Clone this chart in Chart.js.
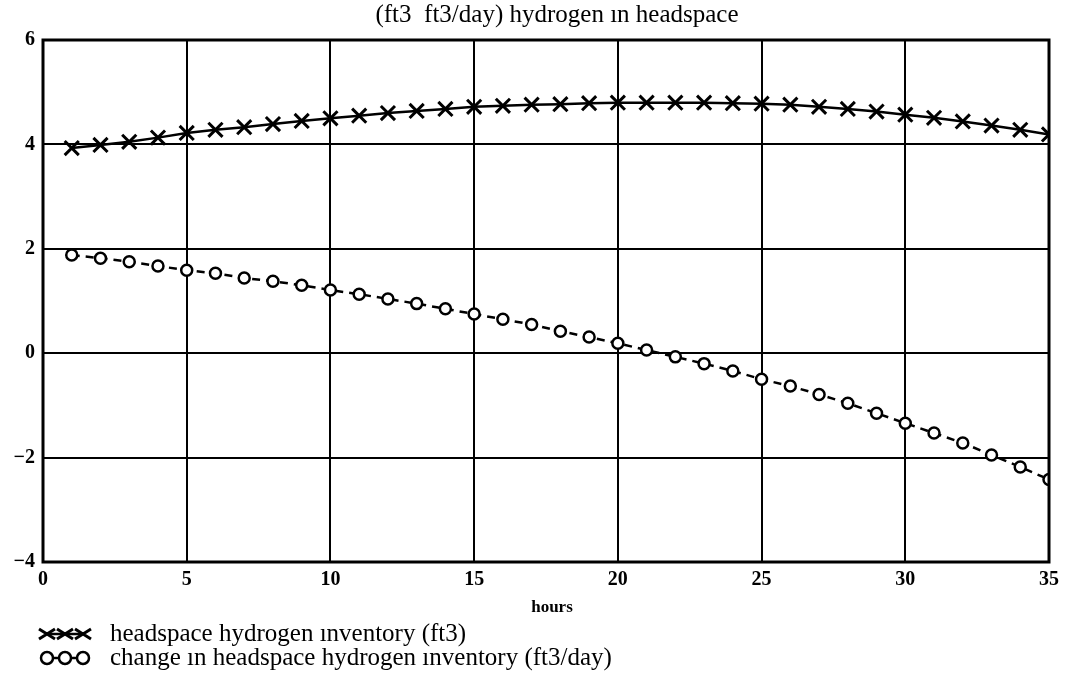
<!DOCTYPE html>
<html>
<head>
<meta charset="utf-8">
<script src="https://cdn.jsdelivr.net/npm/chart.js@4"></script>
<style>
  html, body { margin: 0; padding: 0; background: #fff; }
  #wrap { width: 1079px; height: 687px; }
</style>
</head>
<body>
<div id="wrap"><canvas id="chart" width="1079" height="687"></canvas></div>
<script>
// values
const hours = [1, 2, 3, 4, 5, 6, 7, 8, 9, 10, 11, 12, 13, 14, 15, 16, 17, 18,
    19, 20, 21, 22, 23, 24, 25, 26, 27, 28, 29, 30, 31, 32, 33, 34, 35];
const inventory = [3.93, 3.99, 4.05, 4.13, 4.22, 4.28, 4.33, 4.39, 4.45, 4.50,
    4.55, 4.60, 4.64, 4.68, 4.72, 4.74, 4.76, 4.77, 4.79, 4.80, 4.80, 4.80,
    4.80, 4.79, 4.78, 4.76, 4.72, 4.68, 4.63, 4.57, 4.51, 4.44, 4.36, 4.28, 4.19];
const change = [1.88, 1.82, 1.75, 1.67, 1.59, 1.53, 1.44, 1.38, 1.30, 1.21,
    1.13, 1.04, 0.95, 0.85, 0.75, 0.65, 0.55, 0.42, 0.31, 0.19, 0.06, -0.07,
    -0.20, -0.34, -0.50, -0.63, -0.79, -0.96, -1.15, -1.34, -1.53, -1.72,
    -1.95, -2.18, -2.42];
const xTicks = [0, 5, 10, 15, 20, 25, 30, 35];
const yTicks = [-4, -2, 0, 2, 4, 6];
const chartTitle = '(ft3  ft3/day) hydrogen ın headspace';
const xTitle = 'hours';
const legendLabels = ['headspace hydrogen ınventory (ft3)',
    'change ın headspace hydrogen ınventory (ft3/day)'];

const serif = '"Liberation Serif", "Times New Roman", serif';

const toPoints = (ys) => hours.map((h, i) => ({ x: h, y: ys[i] }));

// title, frame, axis title and legend drawn like the original
const framePlugin = {
    id: 'frame',
    afterDraw(chart) {
        const c = chart.ctx;
        const a = chart.chartArea;
        const mid = (a.left + a.right) / 2;
        c.save();
        c.strokeStyle = '#000';
        c.fillStyle = '#000';
        c.lineWidth = 3;
        c.strokeRect(a.left, a.top, a.right - a.left, a.bottom - a.top);

        c.textAlign = 'center';
        c.textBaseline = 'middle';
        c.font = '25px ' + serif;
        c.fillText(chartTitle, mid + 11, 15);

        c.font = 'bold 17px ' + serif;
        c.fillText(xTitle, mid + 6, 608);

        // legend rows
        const rows = [634, 658];
        c.font = '25px ' + serif;
        c.textAlign = 'left';
        rows.forEach((y, r) => {
            const xs = [47, 65, 83];
            c.lineWidth = 2.5;
            c.beginPath();
            c.moveTo(xs[0], y);
            c.lineTo(xs[2], y);
            c.stroke();
            xs.forEach(x => {
                c.beginPath();
                if (r === 0) {
                    c.lineWidth = 3;
                    c.moveTo(x - 8, y - 5); c.lineTo(x + 8, y + 5);
                    c.moveTo(x - 8, y + 5); c.lineTo(x + 8, y - 5);
                    c.stroke();
                } else {
                    c.lineWidth = 2.5;
                    c.arc(x, y, 6, 0, Math.PI * 2);
                    c.fillStyle = '#fff';
                    c.fill();
                    c.stroke();
                    c.fillStyle = '#000';
                }
            });
            c.fillText(legendLabels[r], 110, y);
        });
        c.restore();
    }
};

new Chart(document.getElementById('chart'), {
    type: 'line',
    data: {
        datasets: [
            {
                label: legendLabels[0],
                data: toPoints(inventory),
                borderColor: '#000',
                borderWidth: 2.5,
                pointStyle: 'crossRot',
                pointRadius: 10,
                pointBorderWidth: 3,
                pointBorderColor: '#000',
                tension: 0
            },
            {
                label: legendLabels[1],
                data: toPoints(change),
                borderColor: '#000',
                borderWidth: 2.5,
                borderDash: [8, 6],
                pointStyle: 'circle',
                pointRadius: 5.5,
                pointBorderWidth: 2.5,
                pointBorderColor: '#000',
                pointBackgroundColor: '#fff',
                tension: 0
            }
        ]
    },
    options: {
        responsive: false,
        animation: false,
        layout: { padding: { left: 0, right: 30, top: 40, bottom: 65 } },
        plugins: {
            legend: { display: false },
            tooltip: { enabled: false },
            title: { display: false }
        },
        scales: {
            x: {
                type: 'linear',
                min: 0,
                max: 35,
                afterBuildTicks: (s) => { s.ticks = xTicks.map(v => ({ value: v })); },
                afterFit: (s) => { s.height = 60; },
                grid: { color: '#000', lineWidth: 2, drawTicks: false },
                border: { display: false },
                ticks: {
                    color: '#000',
                    padding: 6,
                    maxRotation: 0,
                    font: { family: serif, size: 20, weight: 'bold' }
                }
            },
            y: {
                min: -4,
                max: 6,
                afterBuildTicks: (s) => { s.ticks = yTicks.map(v => ({ value: v })); },
                afterFit: (s) => { s.width = 43; },
                grid: { color: '#000', lineWidth: 2, drawTicks: false },
                border: { display: false },
                ticks: {
                    color: '#000',
                    padding: 8,
                    font: { family: serif, size: 20, weight: 'bold' },
                    callback: (v) => String(v).replace('-', '\u2212')
                }
            }
        }
    },
    plugins: [framePlugin]
});
</script>
</body>
</html>
